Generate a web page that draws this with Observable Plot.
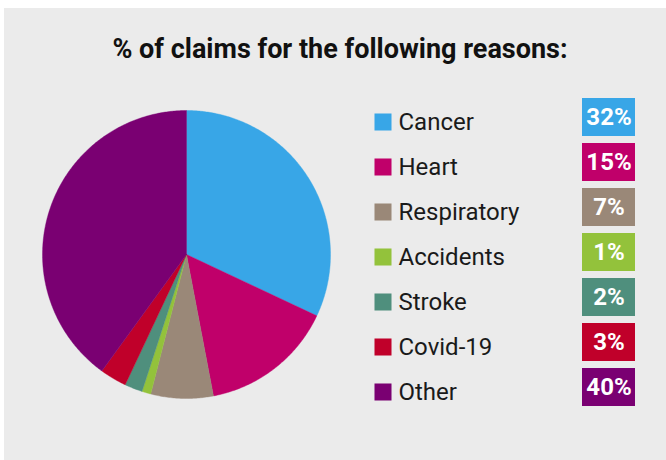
<!DOCTYPE html>
<html>
<head>
<meta charset="utf-8">
<script src="https://cdn.jsdelivr.net/npm/d3@7"></script>
<script src="https://cdn.jsdelivr.net/npm/@observablehq/plot@0.6"></script>
<style>
  html, body { margin: 0; padding: 0; background: #ffffff; }
  #wrap { position: relative; width: 666px; height: 460px; background: #ffffff; overflow: hidden; font-family: Roboto, sans-serif; }
  #panel { position: absolute; left: 4px; top: 8px; width: 662px; height: 452px; background: #ebebeb; }
  #title { position: absolute; left: 0; top: 33px; width: 680px; text-align: center; font-size: 27px; font-weight: 700; color: #111; white-space: nowrap; }
  #pie { position: absolute; left: 42px; top: 110px; }
  #legend { position: absolute; left: 360px; top: 98px; }
</style>
</head>
<body>
<div id="wrap">
  <div id="panel"></div>
  <div id="title">% of claims for the following reasons:</div>
  <div id="pie"></div>
  <div id="legend"></div>
</div>
<script>
const categories = ["Cancer", "Heart", "Respiratory", "Accidents", "Stroke", "Covid-19", "Other"];
const values = [32, 15, 7, 1, 2, 3, 40];
const colors = ["#38a6e7", "#c0006a", "#9a8878", "#93c23b", "#4f8f7d", "#c0002a", "#7a0072"];

const data = categories.map((name, i) => ({name, value: values[i]}));

// Build slice outlines (angle from top, clockwise) from the values with d3.pie
const arcs = d3.pie().value(d => d.value).sort(null)(data);
const slicePts = [];
for (const a of arcs) {
  const n = Math.max(2, Math.ceil((a.endAngle - a.startAngle) / 0.01));
  slicePts.push({name: a.data.name, t: 0, r: 0});
  for (let k = 0; k <= n; k++) {
    const t = a.startAngle + (a.endAngle - a.startAngle) * k / n;
    slicePts.push({name: a.data.name, t, r: 1});
  }
  slicePts.push({name: a.data.name, t: a.endAngle, r: 0});
}

const color = {domain: categories, range: colors};

const pie = Plot.plot({
  width: 288,
  height: 288,
  margin: 0,
  x: {domain: [-1, 1], axis: null},
  y: {domain: [-1, 1], axis: null},
  color,
  style: {background: "transparent", overflow: "visible"},
  marks: [
    Plot.line(slicePts, {
      x: d => d.r * Math.sin(d.t),
      y: d => d.r * Math.cos(d.t),
      z: "name",
      fill: "name",
      stroke: "name",
      strokeWidth: 0.4,
      curve: "linear-closed"
    })
  ]
});
document.getElementById("pie").appendChild(pie);

const legend = Plot.plot({
  width: 300,
  height: 308,
  margin: 0,
  x: {type: "band", domain: ["pct"], range: [222, 275], padding: 0, axis: null},
  y: {type: "band", domain: categories, range: [0, 308], paddingInner: 7 / 45, paddingOuter: 0, axis: null},
  color,
  style: {background: "transparent", overflow: "visible", fontFamily: "Roboto, sans-serif"},
  marks: [
    Plot.dot(data, {y: "name", frameAnchor: "left", dx: 22.5, dy: 4.5, symbol: "square", r: 9.6, fill: "name", stroke: null}),
    Plot.text(data, {y: "name", text: "name", frameAnchor: "left", dx: 38, dy: 4.5, textAnchor: "start", fontSize: 24, fill: "#1a1a1a"}),
    Plot.cell(data, {x: () => "pct", y: "name", fill: "name", inset: 0}),
    Plot.text(data, {x: () => "pct", y: "name", text: d => d.value + "%", fill: "white", fontSize: 24, fontWeight: 700})
  ]
});
document.getElementById("legend").appendChild(legend);
</script>
</body>
</html>
